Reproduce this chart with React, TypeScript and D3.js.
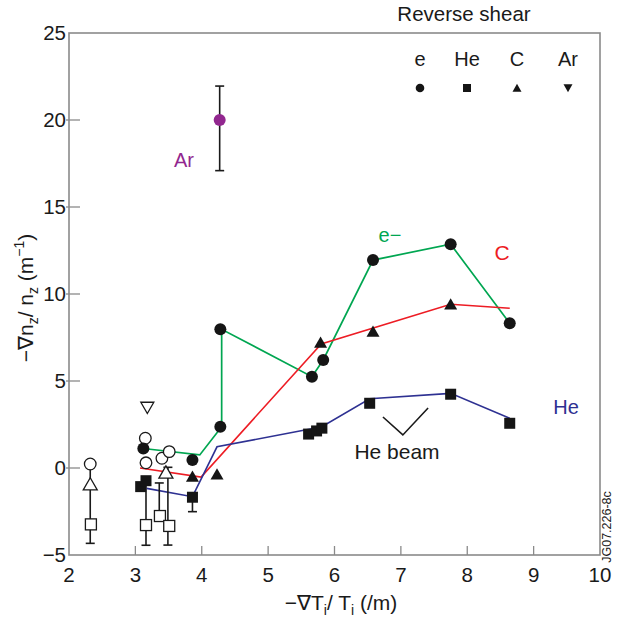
import React from "react";
import * as d3 from "d3";

// ---- data ----
const xTicks = [2, 3, 4, 5, 6, 7, 8, 9, 10];
const yTicks = [-5, 0, 5, 10, 15, 20, 25];

// electrons (green line + filled circles)
const eLineX = [3.12, 3.97, 4.3, 4.3, 5.66, 5.83, 6.58, 7.75, 8.64];
const eLineY = [1.12, 0.75, 2.37, 7.97, 5.25, 6.21, 11.95, 12.86, 8.32];
const ePointsX = [3.12, 3.86, 4.28, 4.28, 5.66, 5.83, 6.58, 7.75, 8.64];
const ePointsY = [1.12, 0.46, 2.37, 7.97, 5.25, 6.21, 11.95, 12.86, 8.32];

// carbon (red line + filled triangles)
const cLineX = [3.07, 3.99, 5.8, 7.75, 8.64];
const cLineY = [0.0, -0.52, 7.13, 9.41, 9.18];
const cPointsX = [3.86, 4.23, 5.79, 6.58, 7.75];
const cPointsY = [-0.53, -0.4, 7.17, 7.8, 9.37];

// helium (blue line + filled squares)
const heLineX = [3.17, 3.86, 4.23, 5.81, 6.53, 7.75, 8.64];
const heLineY = [-1.17, -1.65, 1.22, 2.37, 3.98, 4.29, 2.86];
const hePointsX = [3.08, 3.16, 3.86, 5.61, 5.73, 5.81, 6.53, 7.75, 8.64];
const hePointsY = [-1.07, -0.73, -1.68, 1.95, 2.13, 2.29, 3.72, 4.24, 2.57];

// argon
const arX = [4.27];
const arY = [20.0];

// open (hollow) symbols
const openCircleX = [2.32, 3.15, 3.16, 3.4, 3.51];
const openCircleY = [0.23, 1.71, 0.3, 0.56, 0.94];
const openTriUpX = [2.32, 3.46];
const openTriUpY = [-0.98, -0.3];
const openTriDownX = [3.18];
const openTriDownY = [3.52];
const openSquareX = [2.33, 3.16, 3.37, 3.51];
const openSquareY = [-3.24, -3.28, -2.76, -3.33];

// error bars: x, upper, lower, cap flags
const errX = [2.32, 3.16, 3.36, 3.49, 3.86, 4.27];
const errHi = [0.23, -0.73, -0.86, 0.04, -1.68, 21.95];
const errLo = [-4.33, -4.44, -2.76, -4.43, -2.51, 17.09];
const errCapHi = [false, false, true, true, false, true];
const errCapLo = [true, true, false, true, true, true];

// "He beam" check mark
const beamX = [6.73, 7.03, 7.41];
const beamY = [2.93, 1.9, 3.45];

// ---- styling ----
const W = 620;
const H = 617;
const FONT = "'Liberation Sans', Arial, Helvetica, sans-serif";
const GREEN = "#00a651";
const RED = "#ed1c24";
const BLUE = "#2e3192";
const PURPLE = "#92278f";
const AXIS = "#8a8a8a";
const INK = "#1a1a1a";

const x = d3.scaleLinear().domain([2, 10]).range([69, 600]);
const y = d3.scaleLinear().domain([-5, 25]).range([555, 33]);

const line = d3
  .line<[number, number]>()
  .x((d) => x(d[0]))
  .y((d) => y(d[1]));

const zip = (a: number[], b: number[]): [number, number][] => a.map((v, i) => [v, b[i]]);

function triUp(cx: number, cy: number, s: number) {
  const h = s * 0.87;
  return `M${cx},${cy - h * 0.6}L${cx + s / 2},${cy + h * 0.4}L${cx - s / 2},${cy + h * 0.4}Z`;
}
function triDown(cx: number, cy: number, s: number) {
  const h = s * 0.87;
  return `M${cx},${cy + h * 0.6}L${cx + s / 2},${cy - h * 0.4}L${cx - s / 2},${cy - h * 0.4}Z`;
}

export default function App() {
  const eLine = line(zip(eLineX, eLineY)) || "";
  const cLine = line(zip(cLineX, cLineY)) || "";
  const heLine = line(zip(heLineX, heLineY)) || "";
  const beam = line(zip(beamX, beamY)) || "";
  const capW = 9;
  const sq = 11;
  const tri = 13;

  return (
    <svg
      width={W}
      height={H}
      style={{ position: "absolute", left: 0, top: 0, background: "#fff" }}
      fontFamily={FONT}
    >
      {/* frame */}
      <rect
        x={x(2)}
        y={y(25)}
        width={x(10) - x(2)}
        height={y(-5) - y(25)}
        fill="none"
        stroke={AXIS}
        strokeWidth={1.6}
      />
      {/* y ticks */}
      {yTicks.map((t) => (
        <g key={"yt" + t}>
          {t > -5 && t < 25 && (
            <line x1={x(2) - 3} x2={x(2) + 11} y1={y(t)} y2={y(t)} stroke={AXIS} strokeWidth={1.3} />
          )}
          <text x={x(2) - 3} y={y(t) + 7} textAnchor="end" fontSize={20.5} fill={INK}>
            {d3.format("d")(t)}
          </text>
        </g>
      ))}
      {/* x ticks */}
      {xTicks.map((t) => (
        <g key={"xt" + t}>
          {t > 2 && t < 10 && (
            <line x1={x(t)} x2={x(t)} y1={y(-5)} y2={y(-5) - 9} stroke={AXIS} strokeWidth={1.3} />
          )}
          <text x={x(t)} y={y(-5) + 27} textAnchor="middle" fontSize={20.5} fill={INK}>
            {t}
          </text>
        </g>
      ))}

      {/* axis titles */}
      <text x={341} y={610} textAnchor="middle" fontSize={21} fill={INK}>
        −∇T
        <tspan fontSize={14} dy={5}>i</tspan>
        <tspan dy={-5}>/ T</tspan>
        <tspan fontSize={14} dy={5}>i</tspan>
        <tspan dy={-5}> (/m)</tspan>
      </text>
      <text
        transform="translate(33,298) rotate(-90)"
        textAnchor="middle"
        fontSize={21}
        fill={INK}
      >
        −∇n
        <tspan fontSize={14} dy={5}>z</tspan>
        <tspan dy={-5}>/ n</tspan>
        <tspan fontSize={14} dy={5}>z</tspan>
        <tspan dy={-5}> (m</tspan>
        <tspan fontSize={14} dy={-9}>−1</tspan>
        <tspan dy={9}>)</tspan>
      </text>

      {/* lines */}
      <path d={eLine} fill="none" stroke={GREEN} strokeWidth={1.7} />
      <path d={cLine} fill="none" stroke={RED} strokeWidth={1.6} />
      <path d={heLine} fill="none" stroke={BLUE} strokeWidth={1.6} />
      <path d={beam} fill="none" stroke={INK} strokeWidth={1.6} />

      {/* error bars */}
      {errX.map((ex, i) => (
        <g key={"eb" + i} stroke={INK} strokeWidth={1.6}>
          <line x1={x(ex)} x2={x(ex)} y1={y(errHi[i])} y2={y(errLo[i])} />
          {errCapHi[i] && (
            <line x1={x(ex) - capW / 2} x2={x(ex) + capW / 2} y1={y(errHi[i])} y2={y(errHi[i])} />
          )}
          {errCapLo[i] && (
            <line x1={x(ex) - capW / 2} x2={x(ex) + capW / 2} y1={y(errLo[i])} y2={y(errLo[i])} />
          )}
        </g>
      ))}

      {/* open symbols */}
      <g fill="#fff" stroke={INK} strokeWidth={1.3}>
        {openSquareX.map((v, i) => (
          <rect key={"os" + i} x={x(v) - sq / 2} y={y(openSquareY[i]) - sq / 2} width={sq} height={sq} />
        ))}
        {openTriUpX.map((v, i) => (
          <path key={"ot" + i} d={triUp(x(v), y(openTriUpY[i]), tri + 1)} />
        ))}
        {openTriDownX.map((v, i) => (
          <path key={"od" + i} d={triDown(x(v), y(openTriDownY[i]), tri)} />
        ))}
        {openCircleX.map((v, i) => (
          <circle key={"oc" + i} cx={x(v)} cy={y(openCircleY[i])} r={5.8} />
        ))}
      </g>

      {/* filled symbols */}
      <g fill="#151515">
        {ePointsX.map((v, i) => (
          <circle key={"ec" + i} cx={x(v)} cy={y(ePointsY[i])} r={6} />
        ))}
        {cPointsX.map((v, i) => (
          <path key={"ct" + i} d={triUp(x(v), y(cPointsY[i]), tri)} />
        ))}
        {hePointsX.map((v, i) => (
          <rect key={"hs" + i} x={x(v) - sq / 2} y={y(hePointsY[i]) - sq / 2} width={sq} height={sq} />
        ))}
      </g>
      {arX.map((v, i) => (
        <circle key={"ar" + i} cx={x(v)} cy={y(arY[i])} r={6} fill={PURPLE} />
      ))}

      {/* series labels */}
      <text x={184} y={167} textAnchor="middle" fontSize={20} fill={PURPLE}>Ar</text>
      <text x={390} y={242} textAnchor="middle" fontSize={20} fill={GREEN}>e−</text>
      <text x={502} y={260} textAnchor="middle" fontSize={21} fill={RED}>C</text>
      <text x={566} y={414} textAnchor="middle" fontSize={20} fill={BLUE}>He</text>
      <text x={397} y={459} textAnchor="middle" fontSize={21} fill={INK}>He beam</text>

      {/* legend */}
      <text x={464} y={21} textAnchor="middle" fontSize={20.5} fill={INK}>Reverse shear</text>
      <text x={420} y={66} textAnchor="middle" fontSize={20} fill={INK}>e</text>
      <text x={467} y={66} textAnchor="middle" fontSize={20} fill={INK}>He</text>
      <text x={517} y={66} textAnchor="middle" fontSize={20} fill={INK}>C</text>
      <text x={568} y={66} textAnchor="middle" fontSize={20} fill={INK}>Ar</text>
      <g fill="#151515">
        <circle cx={420} cy={88} r={4.3} />
        <rect x={463} y={84} width={8} height={8} />
        <path d={triUp(517, 88.5, 9)} />
        <path d={triDown(568, 87.5, 9)} />
      </g>

      {/* figure id */}
      <text
        transform="translate(611,527) rotate(-90)"
        textAnchor="middle"
        fontSize={12.5}
        fill={INK}
      >
        JG07.226-8c
      </text>
    </svg>
  );
}
